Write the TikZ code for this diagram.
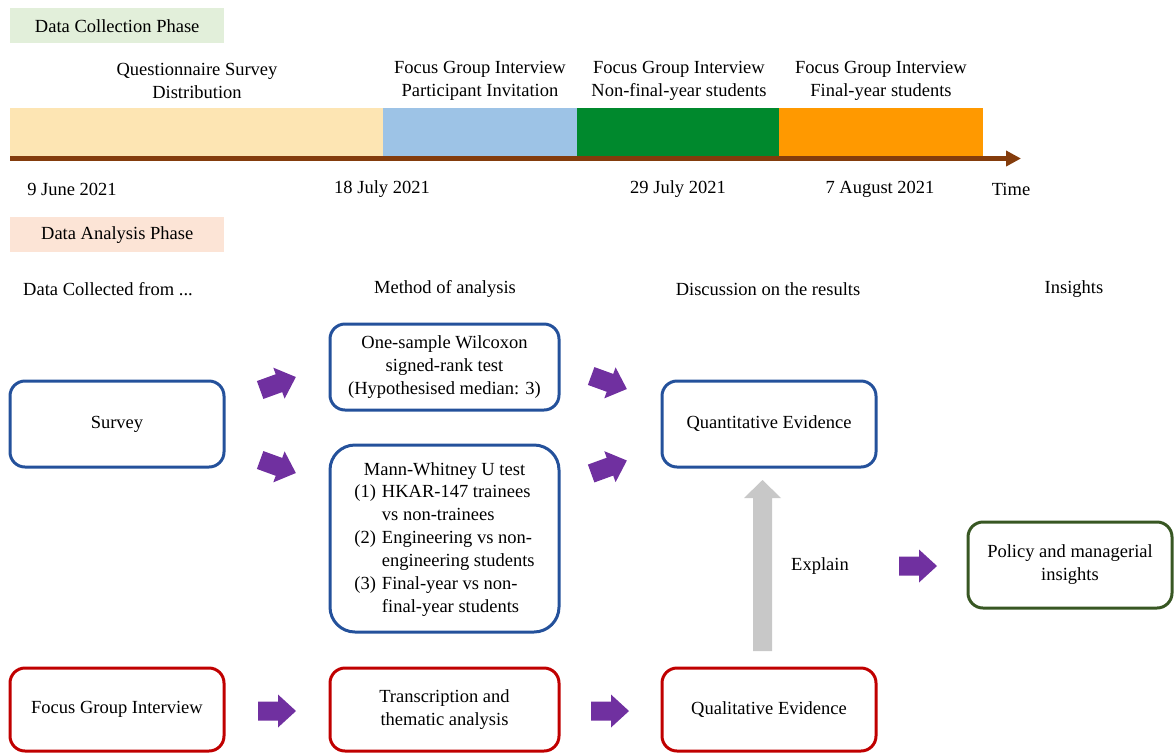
\documentclass[tikz,border=0pt]{standalone}
\usepackage{fontspec}
\setmainfont{Liberation Serif}
\usetikzlibrary{arrows.meta}
\definecolor{collectbg}{HTML}{E2EFDA}
\definecolor{analysisbg}{HTML}{FCE4D6}
\definecolor{baryellow}{HTML}{FDE5B3}
\definecolor{barblue}{HTML}{9DC3E6}
\definecolor{bargreen}{HTML}{00892D}
\definecolor{barorange}{HTML}{FF9900}
\definecolor{brown}{HTML}{843C0C}
\definecolor{apurple}{HTML}{7030A0}
\definecolor{bblue}{HTML}{24519B}
\definecolor{bred}{HTML}{C00000}
\definecolor{bgreen}{HTML}{385723}
\definecolor{agray}{HTML}{C8C8C8}
\tikzset{
  txt/.style={font=\fontsize{18.5}{23}\selectfont, inner sep=0pt, align=center},
  phasebox/.style={txt, minimum width=214pt, minimum height=35pt, anchor=north west},
  bar/.style={minimum height=48pt, inner sep=0pt, anchor=north west},
  rbox/.style={txt, draw, line width=3pt, rounded corners=15pt},
  bluebox/.style={rbox, draw=bblue},
  redbox/.style={rbox, draw=bred},
  greenbox/.style={rbox, draw=bgreen},
  pics/parrowpic/.style={code={
    \fill[apurple] (-19,-9.5) -- (1,-9.5) -- (1,-16.5) -- (19,0) -- (1,16.5) -- (1,9.5) -- (-19,9.5) -- cycle;}},
  pics/grayarrowpic/.style={code={
    \fill[agray] (-85.5,-9.5) -- (67.5,-9.5) -- (67.5,-18.5) -- (85.5,0) -- (67.5,18.5) -- (67.5,9.5) -- (-85.5,9.5) -- cycle;}},
}
\begin{document}
\begin{tikzpicture}[x=1pt,y=-1pt]
\useasboundingbox (0,0) rectangle (1174,753);
% phase labels
\node[phasebox, fill=collectbg] (collect) at (10,8) {Data Collection Phase};
\node[phasebox, fill=analysisbg] (analysis) at (10,217) {Data Analysis Phase};
% timeline bars
\node[bar, fill=baryellow, minimum width=373pt] (b1) at (10,108) {};
\node[bar, fill=barblue, minimum width=194pt] (b2) at (383,108) {};
\node[bar, fill=bargreen, minimum width=202pt] (b3) at (577,108) {};
\node[bar, fill=barorange, minimum width=204pt] (b4) at (779,108) {};
\coordinate (tstart) at (10,158.5);
\coordinate (tend) at (1021,158.5);
\draw[brown, line width=5pt, -{Triangle[length=15pt,width=15pt]}] (tstart) -- (tend);
% bar labels
\node[txt] (l1) at (197,81) {Questionnaire Survey\\Distribution};
\node[txt] (l2) at (480,81) {Focus Group Interview\\Participant Invitation};
\node[txt] (l3) at (679,81) {Focus Group Interview\\Non-final-year students};
\node[txt] (l4) at (881,81) {Focus Group Interview\\Final-year students};
% dates
\node[txt] (d1) at (72,189) {9 June 2021};
\node[txt] (d2) at (382,189) {18 July 2021};
\node[txt] (d3) at (678,189) {29 July 2021};
\node[txt] (d4) at (880,189) {7 August 2021};
\node[txt] (time) at (1011,189) {Time};
% column headers
\node[txt] (h1) at (108,289) {Data Collected from ...};
\node[txt] (h2) at (445,289) {Method of analysis};
\node[txt] (h3) at (768,289) {Discussion on the results};
\node[txt] (h4) at (1074,289) {Insights};
% boxes
\node[bluebox, minimum width=214pt, minimum height=86pt] (survey) at (117,424) {Survey};
\node[bluebox, minimum width=229pt, minimum height=86pt] (wilcox) at (444.5,367) {One-sample Wilcoxon\\signed-rank test\\(Hypothesised median: 3)};
\node[bluebox, rounded corners=25pt, minimum width=229pt, minimum height=187pt] (mw) at (444.5,538.5) {};
\node[txt] (mwtext) at (444.5,541)
  {Mann-Whitney U test\\
   \begin{tabular}{@{}l@{\hspace{6pt}}l@{}}
   (1) & HKAR-147 trainees\\
       & vs non-trainees\\
   (2) & Engineering vs non-\\
       & engineering students\\
   (3) & Final-year vs non-\\
       & final-year students
   \end{tabular}};
\node[bluebox, minimum width=214pt, minimum height=86pt] (quant) at (769,424) {Quantitative Evidence};
\node[greenbox, minimum width=204pt, minimum height=86pt] (policy) at (1070,565) {Policy and managerial\\insights};
\node[redbox, minimum width=214pt, minimum height=83pt] (fgi) at (117,709.5) {Focus Group Interview};
\node[redbox, minimum width=229pt, minimum height=83pt] (trans) at (444.5,709.5) {Transcription and\\thematic analysis};
\node[redbox, minimum width=214pt, minimum height=83pt] (qual) at (769,709.5) {Qualitative Evidence};
% purple block arrows
\pic[rotate=20] (a1) at (278,383.5) {parrowpic};
\pic[rotate=-20] (a2) at (278,466.5) {parrowpic};
\pic[rotate=-20] (a3) at (609,382.5) {parrowpic};
\pic[rotate=20] (a4) at (609,467) {parrowpic};
\pic (a5) at (277,711) {parrowpic};
\pic (a6) at (610,711) {parrowpic};
\pic (a7) at (918,566) {parrowpic};
% gray explain arrow
\pic[rotate=90] (explainarrow) at (762.5,565.5) {grayarrowpic};
\node[txt] (explain) at (820,566) {Explain};
\end{tikzpicture}
\end{document}
